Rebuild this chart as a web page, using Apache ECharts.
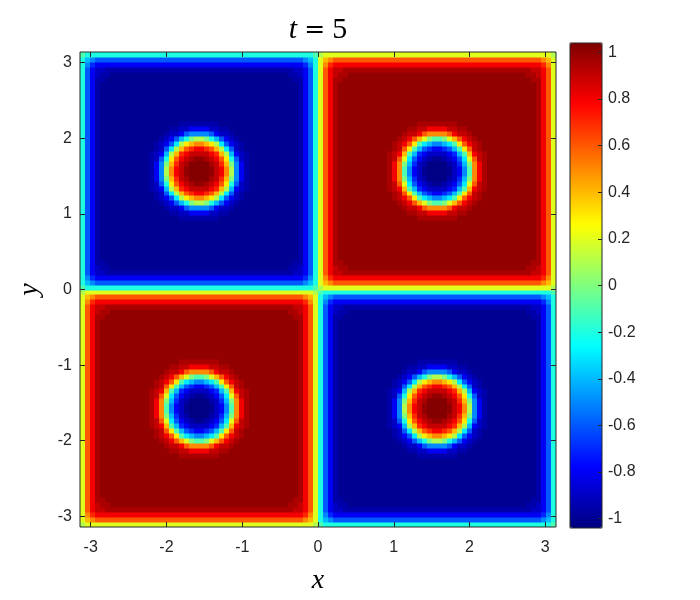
<!DOCTYPE html>
<html>
<head>
<meta charset="utf-8">
<script src="https://cdn.jsdelivr.net/npm/echarts@6/dist/echarts.min.js"></script>
<style>
html,body{margin:0;padding:0;background:#fff;}
#chart{width:700px;height:600px;}
</style>
</head>
<body>
<div id="chart"></div>
<script>
// ---- data ----
const TITLE_TIME = 5;
const X_TICKS = [-3, -2, -1, 0, 1, 2, 3];
const Y_TICKS = [-3, -2, -1, 0, 1, 2, 3];
const CBAR_TICKS = [-1, -0.8, -0.6, -0.4, -0.2, 0, 0.2, 0.4, 0.6, 0.8, 1];
const CBAR_RANGE = [-1.04, 1.04];
const DOMAIN = [-Math.PI, Math.PI];
const JET = ['#00007f', '#0000ff', '#007fff', '#00ffff', '#7fff7f', '#ffff00', '#ff7f00', '#ff0000', '#7f0000'];

// value levels, one character per cell
const LEVEL_KEYS = "0123456789abcdefghijklmno";
const LEVELS = [-1.03, -1.0, -0.95, -0.9, -0.8, -0.7, -0.6, -0.5, -0.4, -0.3, -0.2, -0.1, 0,
                0.1, 0.2, 0.3, 0.4, 0.5, 0.6, 0.7, 0.8, 0.9, 0.95, 1.0, 1.03];

// one corner block of the top-right square (x, y from 0 to pi/2):
// rows go from y = 0 (bottom) up to y = pi/2, columns from x = 0 to x = pi/2
const CORNER_ROWS = [
  "deeeeeeeeeeeeeeeeeeeeeee",
  "eghiiiiiiiiiiiiiiiiiiiii",
  "ehjkkkkkkkkkkkkkkkkkkkkk",
  "eikllmmmmmmmmmmmmmmmmmmm",
  "eiklmmnnnnnnnnnnnnnnnnnn",
  "eikmmnnnnnnnnnnnnnnnnnnn",
  "eikmnnnnnnnnnnnnnnnnnnnn",
  "eikmnnnnnnnnnnnnnnnnnnnn",
  "eikmnnnnnnnnnnnnnnnnnnnn",
  "eikmnnnnnnnnnnnnnnnnnnnn",
  "eikmnnnnnnnnnnnnnnnnnnnn",
  "eikmnnnnnnnnnnnnnnnnnnnn",
  "eikmnnnnnnnnnnnnnnnnnnnn",
  "eikmnnnnnnnnnnnnnnnnnnnn",
  "eikmnnnnnnnnnnnnnnnnmmmm",
  "eikmnnnnnnnnnnnnnnmmllkk",
  "eikmnnnnnnnnnnnnnmllkihh",
  "eikmnnnnnnnnnnnnmlkigecb",
  "eikmnnnnnnnnnnnmlkifb987",
  "eikmnnnnnnnnnnnmlifb8654",
  "eikmnnnnnnnnnnmlkgb85433",
  "eikmnnnnnnnnnnmlie964321",
  "eikmnnnnnnnnnnmkhc853200",
  "eikmnnnnnnnnnnmkhb743100"
];

// ---- assemble the full field by mirroring the block into the four squares ----
const N = CORNER_ROWS.length;
CORNER_ROWS.forEach((r, k) => { if (r.length !== N) throw new Error('row ' + k + ' length ' + r.length); });
const M = 4 * N;
function fold(I) {
  const s = I >= 2 * N ? 1 : -1;
  const q = I >= 2 * N ? I - 2 * N : 2 * N - 1 - I;
  return [s, q < N ? q : 2 * N - 1 - q];
}
const cells = [];
const xCats = [], yCats = [];
for (let I = 0; I < M; I++) { xCats.push(String(I)); yCats.push(String(I)); }
for (let I = 0; I < M; I++) {
  const [sx, cx] = fold(I);
  for (let J = 0; J < M; J++) {
    const [sy, cy] = fold(J);
    const v = LEVELS[LEVEL_KEYS.indexOf(CORNER_ROWS[cy][cx])];
    cells.push([I, J, sx * sy * v]);
  }
}

const INK = '#262626';
const PLOT = { left: 80, top: 52, width: 476, height: 475 };
const CBAR = { left: 570, top: 43, width: 32, height: 485 };
const tickFont = { fontFamily: 'Liberation Sans', fontSize: 16, color: INK };
const mathFont = { fontFamily: 'Liberation Serif', fontStyle: 'italic', fontSize: 28, color: '#000' };
const tickStyle = (vals, len) => ({ show: true, inside: true, length: len, customValues: vals, lineStyle: { color: INK, width: 1 } });
const snap = v => Math.round(v + 1e-6);

const chart = echarts.init(document.getElementById('chart'), null, { renderer: 'canvas' });
chart.setOption({
  animation: false,
  backgroundColor: '#fff',
  title: {
    text: '{i|t}{e|=}{n|' + TITLE_TIME + '}',
    left: 313, top: 10, textAlign: 'center',
    textStyle: {
      fontFamily: 'Liberation Serif', fontSize: 29, fontWeight: 'normal', color: '#000',
      rich: {
        i: { fontFamily: 'Liberation Serif', fontStyle: 'italic', fontSize: 30, color: '#000' },
        e: { fontFamily: 'DejaVu Serif', fontSize: 25, color: '#000', padding: [0, 7, 0, 7] },
        n: { fontFamily: 'Liberation Serif', fontSize: 30, color: '#000' }
      }
    }
  },
  grid: [
    Object.assign({ show: false }, PLOT),
    Object.assign({ show: true, borderColor: INK, borderWidth: 1, backgroundColor: 'transparent', z: 10 }, PLOT),
    Object.assign({ show: true, borderColor: INK, borderWidth: 1, backgroundColor: 'transparent', z: 10 }, CBAR)
  ],
  xAxis: [
    { type: 'category', gridIndex: 0, data: xCats, show: false },
    {
      type: 'value', gridIndex: 1, min: DOMAIN[0], max: DOMAIN[1], position: 'bottom', z: 10,
      axisLine: { show: false, onZero: false }, splitLine: { show: false },
      axisTick: tickStyle(X_TICKS, 5),
      axisLabel: Object.assign({ customValues: X_TICKS, margin: 13 }, tickFont),
      name: 'x', nameLocation: 'middle', nameGap: 40, nameTextStyle: mathFont
    },
    {
      type: 'value', gridIndex: 1, min: DOMAIN[0], max: DOMAIN[1], position: 'top', z: 10,
      axisLine: { show: false, onZero: false }, splitLine: { show: false },
      axisTick: tickStyle(X_TICKS, 5),
      axisLabel: { show: false }
    },
    { type: 'value', gridIndex: 2, min: 0, max: 1, show: false }
  ],
  yAxis: [
    { type: 'category', gridIndex: 0, data: yCats, show: false },
    {
      type: 'value', gridIndex: 1, min: DOMAIN[0], max: DOMAIN[1], position: 'left', z: 10,
      axisLine: { show: false, onZero: false }, splitLine: { show: false },
      axisTick: tickStyle(Y_TICKS, 5),
      axisLabel: Object.assign({ customValues: Y_TICKS, margin: 8 }, tickFont),
      name: 'y', nameLocation: 'middle', nameGap: 36, nameTextStyle: mathFont
    },
    {
      type: 'value', gridIndex: 1, min: DOMAIN[0], max: DOMAIN[1], position: 'right', z: 10,
      axisLine: { show: false, onZero: false }, splitLine: { show: false },
      axisTick: tickStyle(Y_TICKS, 5),
      axisLabel: { show: false }
    },
    {
      type: 'value', gridIndex: 2, min: CBAR_RANGE[0], max: CBAR_RANGE[1], position: 'right', z: 10,
      axisLine: { show: false, onZero: false }, splitLine: { show: false },
      axisTick: tickStyle(CBAR_TICKS, 4),
      axisLabel: Object.assign({
        customValues: CBAR_TICKS, margin: 6,
        formatter: v => String(Math.round(v * 10) / 10)
      }, tickFont)
    }
  ],
  visualMap: {
    type: 'continuous', seriesIndex: 0, dimension: 2,
    min: CBAR_RANGE[0], max: CBAR_RANGE[1],
    inRange: { color: JET },
    left: CBAR.left, top: CBAR.top, itemWidth: CBAR.width, itemHeight: CBAR.height,
    padding: 0, calculable: false, hoverLink: false, z: 4
  },
  series: [{
    type: 'custom', xAxisIndex: 0, yAxisIndex: 0,
    data: cells, progressive: 0, clip: true, silent: true,
    encode: { x: 0, y: 1 },
    renderItem: function (params, api) {
      const p = api.coord([api.value(0), api.value(1)]);
      const s = api.size([1, 1]);
      const x0 = snap(p[0] - s[0] / 2), x1 = snap(p[0] + s[0] / 2);
      const y0 = snap(p[1] - s[1] / 2), y1 = snap(p[1] + s[1] / 2);
      return {
        type: 'rect',
        shape: { x: x0, y: y0, width: x1 - x0 + 0.5, height: y1 - y0 + 0.5 },
        style: { fill: api.visual('color') }
      };
    }
  }]
});
</script>
</body>
</html>
